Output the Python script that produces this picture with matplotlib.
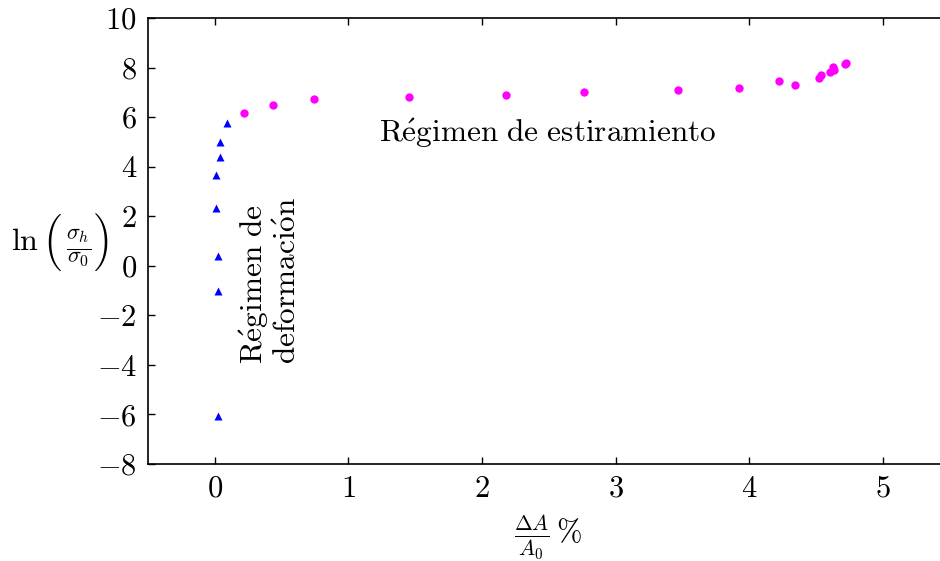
import matplotlib
matplotlib.use("Agg")
import matplotlib.pyplot as plt

plt.rcParams["mathtext.fontset"] = "cm"
plt.rcParams["font.family"] = "serif"
plt.rcParams["font.serif"] = ["cmr10", "DejaVu Serif"]
plt.rcParams["axes.formatter.use_mathtext"] = True
plt.rcParams["font.size"] = 22

# deformation regime (triangles)
def_x = [0.092, 0.039, 0.036, 0.011, 0.006, 0.024, 0.024, 0.022]
def_y = [5.75, 4.98, 4.40, 3.66, 2.32, 0.41, -1.01, -6.05]

# stretching regime (circles)
est_x = [0.221, 0.437, 0.739, 1.452, 2.182, 2.765, 3.467, 3.925, 4.22, 4.342,
         4.518, 4.535, 4.605, 4.625, 4.632, 4.713, 4.725]
est_y = [6.16, 6.49, 6.73, 6.81, 6.89, 7.00, 7.08, 7.19, 7.46, 7.31,
         7.57, 7.70, 7.81, 8.03, 7.90, 8.13, 8.19]

xticks = [0, 1, 2, 3, 4, 5]
yticks = [-8, -6, -4, -2, 0, 2, 4, 6, 8, 10]

fig = plt.figure(figsize=(9.4, 5.61), dpi=100)
ax = fig.add_axes([148 / 940, 97 / 561, 802 / 940, 446 / 561])

ax.plot(def_x, def_y, "^", color="#0000ff", ms=6, mec="none")
ax.plot(est_x, est_y, "o", color="#ff00ff", ms=6, mec="none")

ax.set_xlim(-0.5, 5.5)
ax.set_ylim(-8, 10)
ax.set_xticks(xticks)
ax.set_yticks(yticks)
ax.tick_params(direction="in", length=5, width=1, top=True, right=True, pad=8)
for s in ax.spines.values():
    s.set_linewidth(1.2)

ax.text(2.49, 5.36, r"$\mathrm{R\'{e}gimen\ de\ estiramiento}$",
        ha="center", va="center", fontsize=22.5)
ax.text(0.41, -0.6, r"$\mathrm{R\'{e}gimen\ de}$" + "\n" + r"$\mathrm{deformaci\'{o}n}$",
        rotation=90, ha="center", va="center", multialignment="left",
        fontsize=22.5, linespacing=1.15)

# y label built from pieces: ln, Big parens (cmex10), fraction
fig.text(25 / 940, 1 - 250 / 561, r"$\ln$", fontsize=23, ha="center", va="baseline")
fig.text(52 / 940, 1 - 242 / 561, "\xb3", family="cmex10", fontsize=23, ha="center", va="center")
fig.text(79 / 940, 1 - 248 / 561, r"$\frac{\sigma_h}{\sigma_0}$", fontsize=23, ha="center", va="center")
fig.text(103 / 940, 1 - 242 / 561, "\xb4", family="cmex10", fontsize=23, ha="center", va="center")

ax.set_xlabel(r"$\frac{\Delta A}{A_0}\,\%$", fontsize=22)
ax.xaxis.set_label_coords(0.499, -0.162)
ax.xaxis.label.set_va("center")

fig.savefig("out.png", dpi=100)
